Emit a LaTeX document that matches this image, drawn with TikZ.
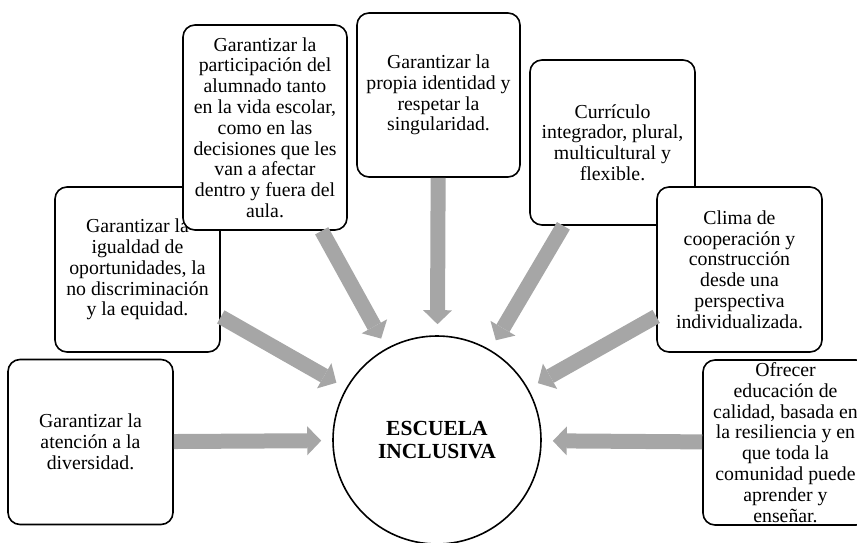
\documentclass[tikz,border=0pt]{standalone}
\usepackage{fontspec}
\setmainfont{Liberation Serif}
\usepackage{tikz}
\usetikzlibrary{arrows.meta, shapes}

\definecolor{arrowgray}{RGB}{166,166,166}

\tikzset{
    idea/.style={draw, line width=1.6pt, rounded corners=12pt, fill=white,
        minimum width=165pt, minimum height=165pt, inner sep=0pt, align=center,
        font=\fontsize{19.8}{20.8}\selectfont},
    hub/.style={draw, circle, line width=1.6pt, minimum size=208pt, inner sep=0pt,
        align=center, font=\fontsize{21.5}{23}\selectfont\bfseries},
    towards/.style={draw=arrowgray, line width=15pt,
        -{Triangle[length=14pt, width=29pt, line width=0pt]}, shorten >=11pt},
}

\begin{document}
\begin{tikzpicture}[x=1pt, y=-1pt]

    \useasboundingbox (0,0) rectangle (857,543);

    \node[hub] (escuela) at (437,440) {ESCUELA\\INCLUSIVA};

    \node[idea] (atencion) at (90.5,442) {Garantizar la\\atención a la\\diversidad.};
    \node[idea] (igualdad) at (137.5,269.5) {Garantizar la\\igualdad de\\oportunidades, la\\no discriminación\\y la equidad.};
    \node[idea, minimum width=164pt, minimum height=205pt] (participacion) at (265,127.5) {Garantizar la\\participación del\\alumnado tanto\\en la vida escolar,\\como en las\\decisiones que les\\van a afectar\\dentro y fuera del\\aula.};
    \node[idea, minimum width=163pt, minimum height=164pt] (identidad) at (438.5,95) {Garantizar la\\propia identidad y\\respetar la\\singularidad.};
    \node[idea] (curriculo) at (612.5,142.5) {Currículo\\integrador, plural,\\multicultural y\\flexible.};
    \node[idea] (clima) at (739.5,269.5) {Clima de\\cooperación y\\construcción\\desde una\\perspectiva\\individualizada.};
    \node[idea] (calidad) at (785.5,442.5) {Ofrecer\\educación de\\calidad, basada en\\la resiliencia y en\\que toda la\\comunidad puede\\aprender y\\enseñar.};

    \foreach \from in {atencion, igualdad, participacion, identidad, curriculo, clima, calidad}
    \draw[towards] (\from) -- (escuela);

\end{tikzpicture}
\end{document}
